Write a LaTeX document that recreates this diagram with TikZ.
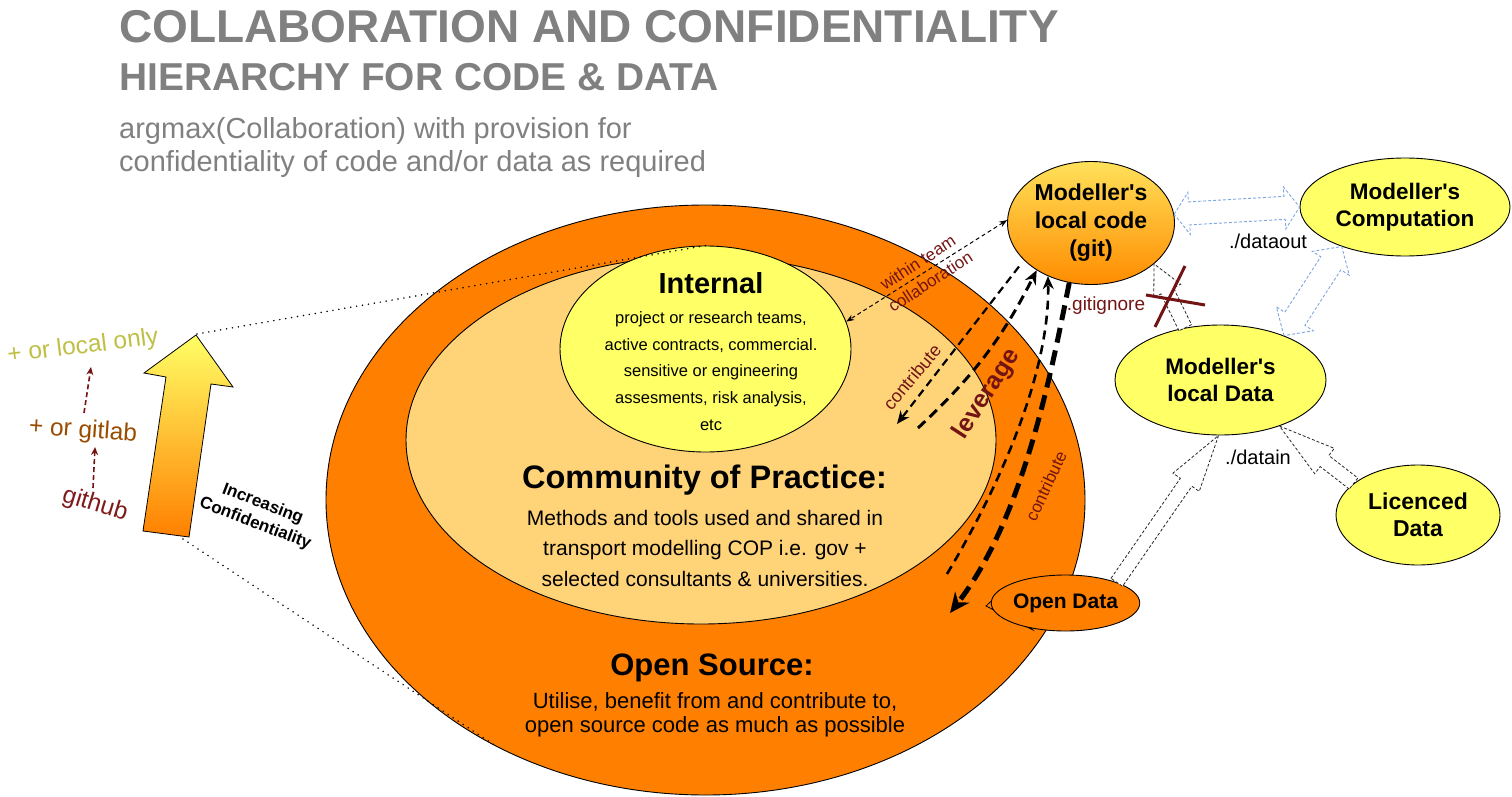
\documentclass[tikz,border=0pt]{standalone}
\usepackage{fontspec}
\setmainfont{Liberation Sans}[Ligatures=TeXOff]
\usetikzlibrary{shapes.geometric,arrows.meta,calc}
\definecolor{orgA}{HTML}{FF8000}
\definecolor{copC}{HTML}{FFD479}
\definecolor{yelC}{HTML}{FFFF66}
\definecolor{greyT}{HTML}{808080}
\definecolor{dred}{HTML}{731414}
\definecolor{blueD}{HTML}{7EA6E0}
\definecolor{oliveL}{HTML}{BFBF45}
\definecolor{brownL}{HTML}{994C00}
\definecolor{ghC}{HTML}{7F1A1A}
\definecolor{codeTop}{HTML}{FFE15A}
\definecolor{codeBot}{HTML}{FF8C00}
\newcommand\myfs[2]{\fontsize{#1}{#2}\selectfont}
\newcommand\sblock[6]{%
  \coordinate (sbH) at ($(#3)!#6!(#2)$);
  \draw[#1] ($(#2)!#4!90:(#3)$) -- ($(sbH)!#4!90:(#3)$) -- ($(sbH)!#5!90:(#3)$) -- (#3) -- ($(sbH)!#5!-90:(#3)$) -- ($(sbH)!#4!-90:(#3)$) -- ($(#2)!#4!-90:(#3)$) -- cycle;}
\newcommand\dblock[6]{%
  \coordinate (dbH1) at ($(#2)!#6!(#3)$);
  \coordinate (dbH2) at ($(#3)!#6!(#2)$);
  \draw[#1] (#2) -- ($(dbH1)!#5!90:(#3)$) -- ($(dbH1)!#4!90:(#3)$) -- ($(dbH2)!#4!90:(#3)$) -- ($(dbH2)!#5!90:(#3)$) -- (#3) -- ($(dbH2)!#5!-90:(#3)$) -- ($(dbH2)!#4!-90:(#3)$) -- ($(dbH1)!#4!-90:(#3)$) -- ($(dbH1)!#5!-90:(#3)$) -- cycle;}
\begin{document}
\begin{tikzpicture}[x=1pt,y=-1pt,
  ell/.style={ellipse, draw=black, line width=0.9pt, inner sep=0pt, align=center},
  mnode/.style={ell, fill=yelC, font=\bfseries\myfs{22.5}{26.5}},
  lbl/.style={inner sep=0pt},
  dotline/.style={draw=black, line width=1.7pt, dash pattern=on 0pt off 6pt, line cap=round},
  bluearr/.style={draw=blueD, fill=white, line width=0.9pt, dash pattern=on 3pt off 2pt},
  hollowarr/.style={draw=black!85, fill=white, line width=0.8pt, dash pattern=on 3pt off 2pt},
  teamarr/.style={draw=black, line width=1pt, dash pattern=on 4pt off 3pt, {Stealth[length=8pt,width=6pt]}-{Stealth[length=8pt,width=6pt]}},
  contarr/.style={draw=black, line width=2.2pt, dash pattern=on 8pt off 5pt, -{Stealth[length=13pt,width=11pt]}},
  levarr/.style={draw=black, line width=3pt, dash pattern=on 10pt off 6pt, -{Stealth[length=14pt,width=12pt]}},
  levarrb/.style={draw=black, line width=2.6pt, dash pattern=on 9pt off 6pt, -{Stealth[length=13pt,width=11pt]}},
  thickarr/.style={draw=black, line width=5pt, dash pattern=on 15pt off 8pt, -{Stealth[length=20pt,width=18pt]}},
  smallarr/.style={draw=dred, line width=1.6pt, dash pattern=on 5pt off 3pt, -{Stealth[length=8pt,width=7pt]}}
]
\useasboundingbox (0,0) rectangle (1512,797);

% titles
\node[lbl, anchor=base west, text=greyT, font=\bfseries\myfs{46}{46}] (t1) at (119,43) {COLLABORATION AND CONFIDENTIALITY};
\node[lbl, anchor=base west, text=greyT, font=\bfseries\myfs{38.9}{38.9}] (t2) at (119,91) {HIERARCHY FOR CODE \& DATA};
\node[lbl, anchor=base west, text=greyT, font=\myfs{29}{29}] (s1) at (119,138.5) {argmax(Collaboration) with provision for};
\node[lbl, anchor=base west, text=greyT, font=\myfs{29}{29}] (s2) at (119,171.5) {confidentiality of code and/or data as required};

% nested ellipses
\node[ell, fill=orgA, minimum width=759pt, minimum height=590pt] (outer) at (705.5,500) {};
\node[ell, fill=copC, minimum width=590pt, minimum height=368pt] (cop) at (701,440) {};
\node[ell, fill=yelC, minimum width=291pt, minimum height=206pt] (internal) at (705.5,349) {};

\node[lbl, font=\bfseries\myfs{29}{29}] (intT) at (711,283) {Internal};
\node[lbl, align=center, font=\myfs{16.5}{26.6}] (intB) at (711,371) {project or research teams,\\active contracts, commercial.\\sensitive or engineering\\assesments, risk analysis,\\etc};
\node[lbl, font=\bfseries\myfs{32.5}{32.5}] (copT) at (704.5,480) {Community of Practice:};
\node[lbl, align=center, font=\myfs{21}{30.5}] (copB) at (705,548) {Methods and tools used and shared in\\transport modelling COP i.e. gov +\\selected consultants \& universities.};
\node[lbl, font=\bfseries\myfs{31}{31}] (osT) at (712,668) {Open Source:};
\node[lbl, align=center, font=\myfs{22}{24.5}] (osB) at (715,715) {Utilise, benefit from and contribute to,\\open source code as much as possible};

% left arrow
\shade[draw=black, line width=0.8pt, top color=yelC, bottom color=orgA] (196,335) -- (233,387) -- (211,384) -- (189,537) -- (143,531) -- (166,377) -- (144,373) -- cycle;
\coordinate (atip) at (197,334);
\coordinate (abot) at (183,539);
\draw[dotline] (atip) -- (internal.north);
\draw[dotline] (abot) -- (outer.230);
\node[lbl, rotate=-21, align=center, font=\bfseries\myfs{17}{21}] (lincr) at (259,514) {Increasing\\Confidentiality};

\node[lbl, text=oliveL, rotate=7, font=\myfs{24.5}{24.5}] (lloc) at (83,347) {+ or local only};
\node[lbl, text=brownL, rotate=-4, font=\myfs{24.5}{24.5}] (lgl) at (83,431) {+ or gitlab};
\node[lbl, text=ghC, rotate=-17, font=\myfs{24.5}{24.5}] (lgh) at (95,505) {github};
\coordinate (gh1) at (93,488);
\coordinate (gl0) at (95,447);
\coordinate (gl1) at (84,413);
\coordinate (lo0) at (91,367);
\draw[smallarr] (gh1) -- (gl0);
\draw[smallarr] (gl1) -- (lo0);

% right nodes
\node[ell, top color=codeTop, bottom color=codeBot, minimum width=167pt, minimum height=123pt, font=\bfseries\myfs{23}{28}] (code) at (1091,223) {Modeller's\\local code\\(git)};
\node[mnode, minimum width=210pt, minimum height=98pt] (comp) at (1405,207) {Modeller's\\Computation};
\node[mnode, minimum width=211pt, minimum height=110pt] (data) at (1220.5,380) {Modeller's\\local Data};
\node[mnode, minimum width=164pt, minimum height=100pt, font=\bfseries\myfs{23}{27}] (lic) at (1418,515) {Licenced\\Data};

% open data callout
\coordinate (odtip) at (986,606);
\filldraw[fill=orgA, draw=black, line width=0.8pt] (odtip) -- (1001,592) -- (1033,630) -- cycle;
\node[ell, fill=orgA, minimum width=141pt, minimum height=56pt, font=\bfseries\myfs{21}{21}] (odata) at (1065.5,603) {Open Data};

% block arrows
\dblock{bluearr}{code.6}{comp.180}{11.5pt}{21pt}{15pt}
\dblock{bluearr}{data.35}{comp.212}{12pt}{22pt}{20pt}
\sblock{hollowarr}{data.124}{code.-33}{7pt}{15pt}{30pt}
\sblock{hollowarr}{odata.22}{data.-92}{7pt}{16pt}{57pt}
\sblock{hollowarr}{lic.154}{data.-38}{7pt}{16pt}{57pt}

% gitignore cross
\draw[dred, line width=3pt] (1155,327) -- (1185,266);
\draw[dred, line width=3pt] (1146,295) -- (1205,305);

% black dashed connectors
\coordinate (cend) at (897,424);
\coordinate (levA) at (918,428);
\coordinate (levB) at (947,574);
\coordinate (contE) at (950,613);
\draw[teamarr] (code.178) -- (internal.11);
\draw[contarr, shorten <=8pt] (code.209) -- (cend);
\draw[levarr] (levA) to[bend right=10] (code.221);
\draw[levarrb] (levB) .. controls (1012,465) and (1050,360) .. (code.231);
\draw[thickarr] (code.250) .. controls (1050,380) and (1022,520) .. (contE);

% labels
\node[lbl, text=dred, rotate=33, align=center, font=\myfs{17}{23}] (lteam) at (924,272) {within team\\collaboration};
\node[lbl, text=dred, rotate=50, font=\myfs{18}{18}] (lcont1) at (912,377) {contribute};
\node[lbl, text=dred, rotate=57, font=\bfseries\myfs{25}{25}] (llev) at (987,394) {leverage};
\node[lbl, text=dred, rotate=65, font=\myfs{17}{17}] (lcont2) at (1046,486) {contribute};
\node[lbl, text=dred, font=\myfs{19}{19}] (lgit) at (1106,306) {.gitignore};
\node[lbl, font=\myfs{20}{20}] (ldout) at (1268,241) {./dataout};
\node[lbl, font=\myfs{20}{20}] (ldin) at (1258,457) {./datain};
\end{tikzpicture}
\end{document}
